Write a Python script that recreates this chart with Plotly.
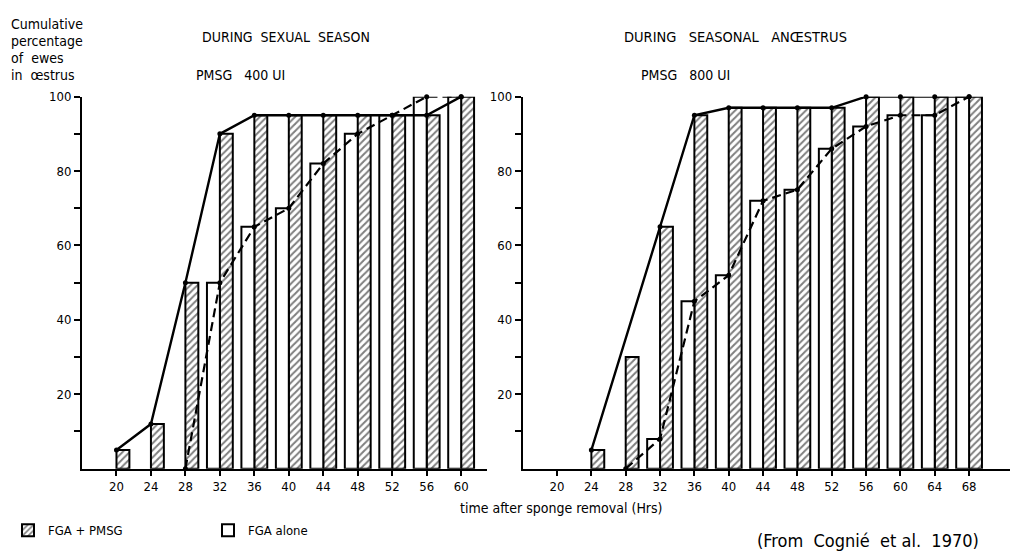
import plotly.graph_objects as go

# ---------------- data ----------------
times_left = [20, 24, 28, 32, 36, 40, 44, 48, 52, 56, 60]
pmsg_left = [5, 12, 50, 90, 95, 95, 95, 95, 95, 95, 100]      # FGA + PMSG (hatched)
alone_left = [0, 0, 0, 50, 65, 70, 82, 90, 95, 100, 100]      # FGA alone (open)

times_right = [20, 24, 28, 32, 36, 40, 44, 48, 52, 56, 60, 64, 68]
pmsg_right = [0, 5, 30, 65, 95, 97, 97, 97, 97, 100, 100, 100, 100]
alone_right = [0, 0, 0, 8, 45, 52, 72, 75, 86, 92, 95, 95, 100]

# curve vertices
solid_left_x = [20, 24, 28, 32, 36, 40, 44, 48, 52, 56, 60]
solid_left_y = [5, 12, 50, 90, 95, 95, 95, 95, 95, 95, 100]
dash_left_x = [28, 32, 36, 40, 44, 48, 52, 56, 60]
dash_left_y = [0, 50, 65, 70, 82, 90, 95, 100, 100]

solid_right_x = [24, 32, 36, 40, 44, 48, 52, 56, 60, 64, 68]
solid_right_y = [5, 65, 95, 97, 97, 97, 97, 100, 100, 100, 100]
dash_right_x = [28, 32, 36, 40, 44, 48, 52, 56, 60, 64, 68]
dash_right_y = [0, 8, 45, 52, 72, 75, 86, 92, 95, 95, 100]

y_tickvals = [10, 20, 30, 40, 50, 60, 70, 80, 90, 100]
y_ticktext = ["", "20", "", "40", "", "60", "", "80", "", "100"]
x_ticks_left = [20, 24, 28, 32, 36, 40, 44, 48, 52, 56, 60]
x_ticks_right = [20, 24, 28, 32, 36, 40, 44, 48, 52, 56, 60, 64, 68]

legend_names = ["FGA + PMSG", "FGA alone"]

# ---------------- figure ----------------
W, H = 1018, 552
OFF = 8          # page body margin: figure pixel p appears at p + OFF on screen
FONT = "DejaVu Sans Condensed, DejaVu Sans"
BAR_W = 1.5

def px(x):   # screen x -> paper fraction
    return (x - OFF) / W

def py(y):   # screen y -> paper fraction
    return 1 - (y - OFF) / H

def nz(vals):
    return [v if v > 0 else None for v in vals]

fig = go.Figure()

hatch = dict(color="white", line=dict(color="black", width=2),
             pattern=dict(shape="/", fgcolor="black", bgcolor="white", size=5, solidity=0.4))
openm = dict(color="white", line=dict(color="black", width=2))

def add_panel(times, pmsg, alone, sx, sy, dx, dy, xa, ya, legend):
    fig.add_trace(go.Bar(x=times, y=nz(pmsg), width=BAR_W, offset=0, marker=hatch,
                         name=legend_names[0], legendrank=1,
                         xaxis=xa, yaxis=ya, showlegend=legend))
    fig.add_trace(go.Bar(x=times, y=nz(alone), width=BAR_W, offset=-BAR_W, marker=openm,
                         name=legend_names[1], legendrank=2,
                         xaxis=xa, yaxis=ya, showlegend=legend))
    fig.add_trace(go.Scatter(x=dx, y=dy, mode="lines+markers",
                             line=dict(color="black", width=2.2, dash="9px,5px"),
                             marker=dict(color="black", size=5),
                             xaxis=xa, yaxis=ya, showlegend=False, cliponaxis=False))
    fig.add_trace(go.Scatter(x=sx, y=sy, mode="lines+markers",
                             line=dict(color="black", width=2.4),
                             marker=dict(color="black", size=5),
                             xaxis=xa, yaxis=ya, showlegend=False, cliponaxis=False))

add_panel(times_left, pmsg_left, alone_left, solid_left_x, solid_left_y,
          dash_left_x, dash_left_y, "x", "y", True)
add_panel(times_right, pmsg_right, alone_right, solid_right_x, solid_right_y,
          dash_right_x, dash_right_y, "x2", "y2", False)

ydom = [py(467.5), py(90.7)]
axis_common = dict(showline=True, linecolor="black", linewidth=2, showgrid=False,
                   zeroline=False, ticks="outside", tickcolor="black", tickwidth=1.5,
                   tickfont=dict(family=FONT, size=13, color="black"))

fig.update_layout(
    width=W, height=H,
    margin=dict(l=0, r=0, t=0, b=0),
    paper_bgcolor="white", plot_bgcolor="white",
    barmode="overlay",
    showlegend=True,
    legend=dict(orientation="h", x=px(8), y=py(530), xanchor="left", yanchor="middle",
                entrywidth=155, entrywidthmode="pixels", traceorder="normal",
                font=dict(family=FONT, size=13, color="black"), bgcolor="rgba(0,0,0,0)",
                itemclick=False, itemdoubleclick=False),
    xaxis=dict(domain=[px(82), px(487)], range=[16, 63], tickvals=x_ticks_left,
               ticktext=[str(v) for v in x_ticks_left], ticklen=5, anchor="y", **axis_common),
    yaxis=dict(domain=ydom, range=[0, 100], tickvals=y_tickvals, ticktext=y_ticktext,
               ticklen=6, anchor="x", **axis_common),
    xaxis2=dict(domain=[px(522.7), px(1012)], range=[16, 73], tickvals=x_ticks_right,
                ticktext=[str(v) for v in x_ticks_right], ticklen=5, anchor="y2", **axis_common),
    yaxis2=dict(domain=ydom, range=[0, 100], tickvals=y_tickvals, ticktext=y_ticktext,
                ticklen=6, anchor="x2", **axis_common),
)

def txt(text, x, y, size=13, anchor="left"):
    fig.add_annotation(text=text, x=px(x), y=py(y), xref="paper", yref="paper",
                       xanchor=anchor, yanchor="middle", showarrow=False,
                       font=dict(family=FONT, size=size, color="black"))

NB = "\u00a0"
left_lines = ["Cumulative", "percentage", "of" + NB + NB + "ewes", "in" + NB + NB + "œstrus"]
left_y = [17, 34, 51.5, 69]
for line, yy in zip(left_lines, left_y):
    txt(line, OFF + 1, yy, size=14)

txt("DURING" + NB * 2 + "SEXUAL" + NB * 2 + "SEASON", 200, 30, size=14)
txt("PMSG" + NB * 3 + "400" + NB + "UI", 194, 69, size=14)
txt("DURING" + NB * 3 + "SEASONAL" + NB * 3 + "ANŒSTRUS", 622, 30, size=14.5)
txt("PMSG" + NB * 3 + "800" + NB + "UI", 639, 69, size=14)

txt("time" + NB + "after" + NB + "sponge" + NB + "removal" + NB + "(Hrs)", 561, 507,
    size=14, anchor="center")
txt("(From" + NB * 2 + "Cognié" + NB * 2 + "et" + NB + "al." + NB * 2 + "1970)", 868, 540, size=18,
    anchor="center")

fig.write_html("out.html")
